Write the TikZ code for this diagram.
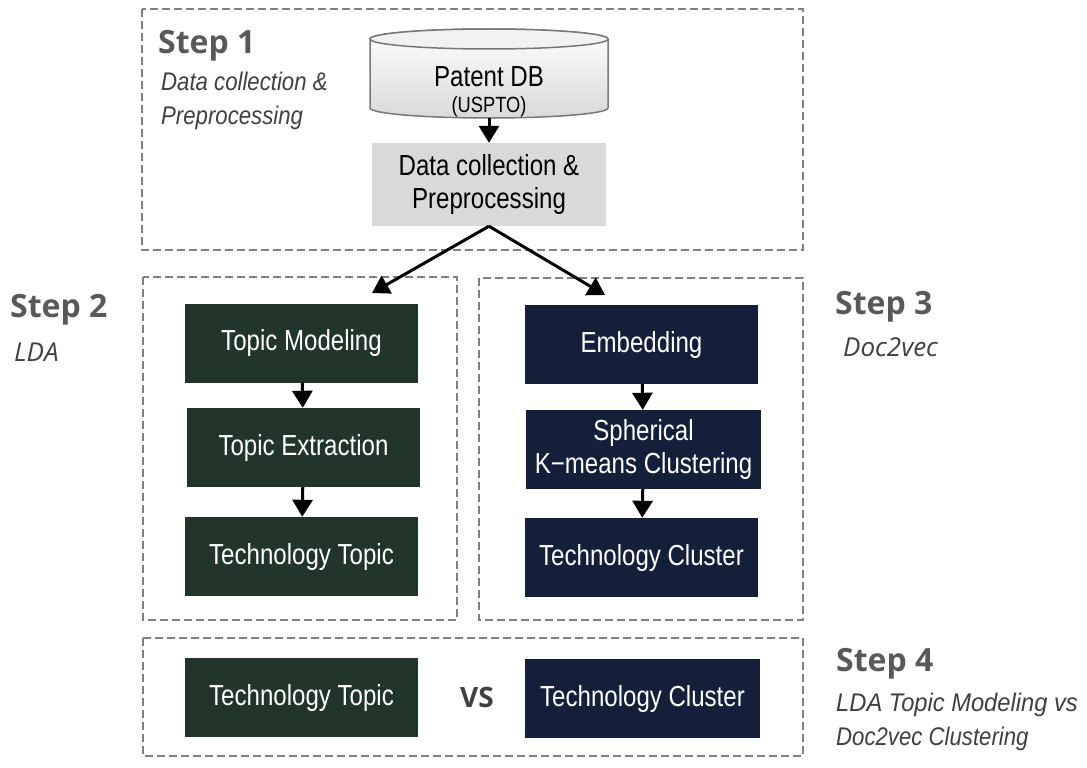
\documentclass[tikz,border=0pt]{standalone}
\usepackage{fontspec}
\setmainfont{Liberation Sans}
\newfontfamily\boxfont{Liberation Sans}[FakeStretch=0.83]
\newfontfamily\condit{Liberation Sans}[FakeStretch=0.87]
\newfontfamily\conditw{Liberation Sans}[FakeStretch=0.93]
\newfontfamily\stepfont{Open Sans}
\usetikzlibrary{arrows.meta}
\definecolor{dgreen}{RGB}{33,53,43}
\definecolor{dnavy}{RGB}{20,31,58}
\definecolor{boxgray}{RGB}{217,217,217}
\definecolor{dashgray}{RGB}{128,128,128}
\definecolor{labgray}{RGB}{89,89,89}
\definecolor{subgray}{RGB}{64,64,64}
\definecolor{cylline}{RGB}{120,120,120}
\begin{document}
\begin{tikzpicture}[x=1pt,y=-1pt,
 frame/.style={draw=dashgray, line width=2.5pt, dash pattern=on 8pt off 4pt},
 gbox/.style={fill=dgreen, text=white, minimum width=233pt, minimum height=79pt, inner sep=0pt, font=\boxfont\fontsize{29}{33}\selectfont, align=center},
 nbox/.style={gbox, fill=dnavy},
 arr/.style={line width=3pt, -{Triangle[width=20pt,length=17pt]}},
 steplab/.style={anchor=base west, inner sep=0pt, text=labgray, font=\stepfont\bfseries\fontsize{32}{36}\selectfont},
 sublab/.style={anchor=base west, inner sep=0pt, text=subgray, font=\condit\itshape\fontsize{25.5}{30}\selectfont},
 sublabb/.style={anchor=base west, inner sep=0pt, text=subgray, font=\stepfont\itshape\fontsize{26}{30}\selectfont}
]
\useasboundingbox (0,0) rectangle (1087,768);
\fill[white] (0,0) rectangle (1087,768);
% frames
\draw[frame] (142,9) rectangle (803,250);
\draw[frame] (143,277) rectangle (457,620);
\draw[frame] (479,278) rectangle (803,620);
\draw[frame] (143,638) rectangle (803,756);
% cylinder
\shade[top color=white, bottom color=black!15, draw=cylline, line width=1.5pt]
  (370,39) -- (370,108) arc(180:0:119 and 10) -- (608,39) arc(360:180:119 and 10) -- cycle;
\draw[cylline, line width=1.5pt, fill=black!5] (489,39) ellipse (119 and 10);
\node[inner sep=0pt, minimum width=238pt, minimum height=89pt] (db) at (489,73.5) {};
\node[inner sep=0pt, anchor=base, font=\boxfont\fontsize{29}{33}\selectfont] (dbt1) at (489,86) {Patent DB};
\node[inner sep=0pt, anchor=base, font=\boxfont\fontsize{22}{26}\selectfont] (dbt2) at (489,112) {(USPTO)};
% preprocessing
\node[fill=boxgray, minimum width=234pt, minimum height=83pt, inner sep=0pt, align=center, font=\boxfont\fontsize{29}{33}\selectfont] (dp) at (489,184.5) {Data collection \&\\Preprocessing};
\draw[arr] (db.south) -- (dp.north);
\coordinate (a2) at (372,293);
\coordinate (a3) at (605,295);
\draw[arr] (dp.south) -- (a2);
\draw[arr] (dp.south) -- (a3);
% step 2
\node[gbox] (tm) at (301.5,343) {Topic Modeling};
\node[gbox] (te) at (303.5,447.5) {Topic Extraction};
\node[gbox] (tt) at (301.5,556.5) {Technology Topic};
\draw[arr] (tm) -- (te);
\draw[arr] (te) -- (tt);
% step 3
\node[nbox] (emb) at (641.5,344.5) {Embedding};
\node[nbox, minimum width=235pt] (skm) at (643.5,449.5) {Spherical\\K−means Clustering};
\node[nbox] (tc) at (641.5,557.5) {Technology Cluster};
\draw[arr] (emb) -- (skm);
\draw[arr] (skm) -- (tc);
% step 4
\node[gbox] (tt4) at (301.5,697.5) {Technology Topic};
\node[nbox, minimum width=235pt] (tc4) at (642.5,698.5) {Technology Cluster};
\node[inner sep=0pt, text=subgray, font=\stepfont\bfseries\fontsize{28}{30}\selectfont] (vs) at (477,697) {VS};
% labels
\node[steplab] (s1) at (158,54) {Step 1};
\node[sublab] (s1a) at (161,91) {Data collection \&};
\node[sublab] (s1b) at (161,124) {Preprocessing};
\node[steplab] (s2) at (10,317) {Step 2};
\node[sublabb] (s2a) at (14,361) {LDA};
\node[steplab] (s3) at (835,314) {Step 3};
\node[sublabb] (s3a) at (843,356) {Doc2vec};
\node[steplab] (s4) at (836,671) {Step 4};
\node[sublab, font=\conditw\itshape\fontsize{25.5}{30}\selectfont] (s4a) at (836,711) {LDA Topic Modeling vs};
\node[sublab] (s4b) at (836,745) {Doc2vec Clustering};
\end{tikzpicture}
\end{document}
